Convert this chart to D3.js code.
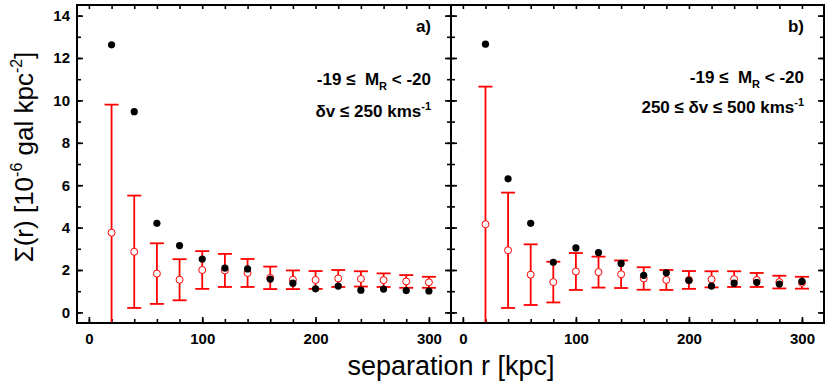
<!DOCTYPE html>
<html>
<head>
<meta charset="utf-8">
<script src="https://cdn.jsdelivr.net/npm/d3@7"></script>
<style>
  body { margin: 0; background: #fff; }
  svg text { font-family: "Liberation Sans", Arial, sans-serif; white-space: pre; }
</style>
</head>
<body>
<div id="chart"></div>
<script>
// separations (kpc)
const separations = [20, 40, 60, 80, 100, 120, 140, 160, 180, 200, 220, 240, 260, 280, 300];

// panel a) dv <= 250 km/s
const observedA = [12.62, 9.47, 4.2, 3.15, 2.52, 2.09, 2.05, 1.57, 1.38, 1.11, 1.24, 1.05, 1.1, 1.03, 1.01];
const randomMeanA = [3.76, 2.86, 1.83, 1.54, 2.0, 1.98, 1.86, 1.63, 1.54, 1.53, 1.6, 1.58, 1.52, 1.46, 1.42];
const randomErrA = [6.04, 2.65, 1.43, 0.97, 0.89, 0.78, 0.66, 0.53, 0.44, 0.42, 0.4, 0.36, 0.32, 0.3, 0.26];

// panel b) 250 <= dv <= 500 km/s
const observedB = [12.65, 6.3, 4.2, 2.36, 3.04, 2.82, 2.31, 1.75, 1.87, 1.51, 1.24, 1.38, 1.42, 1.34, 1.46];
const randomMeanB = [4.16, 2.93, 1.78, 1.43, 1.93, 1.9, 1.8, 1.6, 1.53, 1.53, 1.56, 1.57, 1.53, 1.43, 1.4];
const randomErrB = [6.49, 2.72, 1.43, 0.96, 0.87, 0.73, 0.65, 0.53, 0.47, 0.42, 0.38, 0.37, 0.33, 0.3, 0.28];

const xTickLabels = [0, 100, 200, 300];
const yTickLabels = [0, 2, 4, 6, 8, 10, 12, 14];

const width = 830, height = 385;
const plotTop = 5, plotBottom = 323;
const red = "#ff0000";

const svg = d3.select("#chart").append("svg")
  .attr("width", width)
  .attr("height", height);

const y = d3.scaleLinear().domain([-0.5, 14.5]).range([plotBottom, plotTop]);

const panels = [
  { id: "a", x0: 77, x1: 451, obs: observedA, mean: randomMeanA, err: randomErrA,
    label: "a)", line1Y: 85, line2Y: 117, line2: "δv ≤ 250 kms" },
  { id: "b", x0: 451, x1: 824, obs: observedB, mean: randomMeanB, err: randomErrB,
    label: "b)", line1Y: 83, line2Y: 113, line2: "250 ≤ δv ≤ 500 kms" }
];

panels.forEach((p, i) => {
  const x = d3.scaleLinear().domain([-10.5, 319.5]).range([p.x0, p.x1]);
  const g = svg.append("g").attr("class", "panel-" + p.id);

  g.append("clipPath").attr("id", "clip-" + p.id)
    .append("rect")
    .attr("x", p.x0).attr("y", plotTop)
    .attr("width", p.x1 - p.x0).attr("height", plotBottom - plotTop);

  // axes: ticks pointing inward on all four sides
  const minorY = d3.range(0, 15, 1);
  const minorX = d3.range(0, 301, 20);

  const addAxis = (axis, transform, labels) => {
    const a = g.append("g").attr("transform", transform).call(axis);
    a.select(".domain").remove();
    a.selectAll("line").attr("stroke", "#000").attr("stroke-width", 1.6);
    a.selectAll("text")
      .attr("font-size", 15)
      .attr("font-weight", "bold")
      .attr("fill", "#000")
      .style("display", labels ? null : "none");
    return a;
  };

  // left
  addAxis(d3.axisLeft(y).tickValues(minorY).tickSize(-4).tickFormat(""), `translate(${p.x0},0)`, false);
  addAxis(d3.axisLeft(y).tickValues(yTickLabels).tickSize(-6).tickPadding(7), `translate(${p.x0},0)`, i === 0);
  // right
  addAxis(d3.axisRight(y).tickValues(minorY).tickSize(-4).tickFormat(""), `translate(${p.x1},0)`, false);
  addAxis(d3.axisRight(y).tickValues(yTickLabels).tickSize(-6).tickFormat(""), `translate(${p.x1},0)`, false);
  // bottom
  addAxis(d3.axisBottom(x).tickValues(minorX).tickSize(-4).tickFormat(""), `translate(0,${plotBottom})`, false);
  addAxis(d3.axisBottom(x).tickValues(xTickLabels).tickSize(-6).tickPadding(10), `translate(0,${plotBottom})`, true);
  // top
  addAxis(d3.axisTop(x).tickValues(minorX).tickSize(-4).tickFormat(""), `translate(0,${plotTop})`, false);

  const data = separations.map((s, k) => ({ s, obs: p.obs[k], mean: p.mean[k], err: p.err[k] }));

  // error bars of the random sample
  const bars = g.append("g").attr("clip-path", `url(#clip-${p.id})`)
    .selectAll(".err").data(data).enter().append("g").attr("class", "err")
    .attr("stroke", red).attr("stroke-width", 1.8);
  bars.append("line")
    .attr("x1", d => x(d.s)).attr("x2", d => x(d.s))
    .attr("y1", d => y(d.mean + d.err)).attr("y2", d => y(d.mean - d.err));
  bars.append("line")
    .attr("x1", d => x(d.s) - 7).attr("x2", d => x(d.s) + 7)
    .attr("y1", d => y(d.mean + d.err)).attr("y2", d => y(d.mean + d.err));
  bars.append("line")
    .attr("x1", d => x(d.s) - 7).attr("x2", d => x(d.s) + 7)
    .attr("y1", d => y(d.mean - d.err)).attr("y2", d => y(d.mean - d.err));

  g.selectAll(".mean").data(data).enter().append("circle")
    .attr("class", "mean")
    .attr("cx", d => x(d.s)).attr("cy", d => y(d.mean))
    .attr("r", 3.5)
    .attr("fill", "#fff").attr("stroke", red).attr("stroke-width", 1);

  g.selectAll(".obs").data(data).enter().append("circle")
    .attr("class", "obs")
    .attr("cx", d => x(d.s)).attr("cy", d => y(d.obs))
    .attr("r", 3.6)
    .attr("fill", "#000");

  // annotations
  const right = p.x1 - 20;
  g.append("text")
    .attr("x", right).attr("y", 32)
    .attr("text-anchor", "end")
    .attr("font-size", 17).attr("font-weight", "bold")
    .text(p.label);

  const l1 = g.append("text")
    .attr("x", right).attr("y", p.line1Y)
    .attr("text-anchor", "end")
    .attr("font-size", 17).attr("font-weight", "bold");
  l1.append("tspan").text("-19 ≤  M");
  l1.append("tspan").attr("font-size", 11).attr("dy", 5).text("R");
  l1.append("tspan").attr("dy", -5).text(" < -20");

  const l2 = g.append("text")
    .attr("x", right).attr("y", p.line2Y)
    .attr("text-anchor", "end")
    .attr("font-size", 17).attr("font-weight", "bold");
  l2.append("tspan").text(p.line2);
  l2.append("tspan").attr("font-size", 11).attr("dy", -7).text("-1");
});

// frame
svg.append("rect")
  .attr("x", 77).attr("y", plotTop)
  .attr("width", 824 - 77).attr("height", plotBottom - plotTop)
  .attr("fill", "none").attr("stroke", "#000").attr("stroke-width", 2);
svg.append("line")
  .attr("x1", 451).attr("x2", 451).attr("y1", plotTop).attr("y2", plotBottom)
  .attr("stroke", "#000").attr("stroke-width", 2);

// axis titles
svg.append("text")
  .attr("x", 451).attr("y", 375)
  .attr("text-anchor", "middle")
  .attr("font-size", 27)
  .text("separation r [kpc]");

const yt = svg.append("text")
  .attr("transform", "translate(33,157) rotate(-90)")
  .attr("text-anchor", "middle")
  .attr("font-size", 26);
yt.append("tspan").text("Σ(r) [10");
yt.append("tspan").attr("font-size", 16).attr("dy", -11).text("-6");
yt.append("tspan").attr("dy", 11).text(" gal kpc");
yt.append("tspan").attr("font-size", 16).attr("dy", -11).text("-2");
yt.append("tspan").attr("dy", 11).text("]");
</script>
</body>
</html>
